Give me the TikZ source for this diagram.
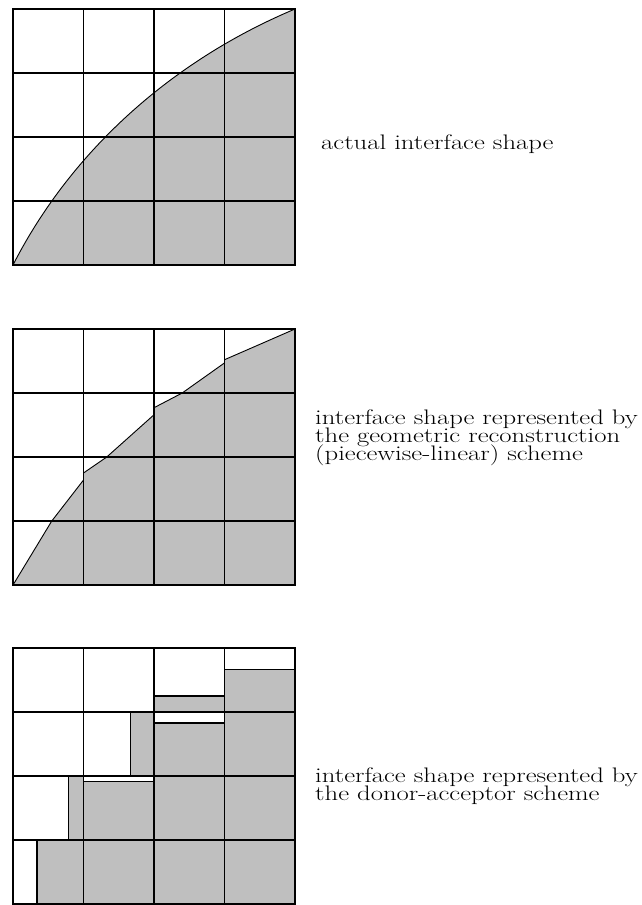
\documentclass[tikz,border=0pt]{standalone}
\usepackage{graphicx}
\definecolor{cellgray}{RGB}{191,191,191}
\tikzset{
  gridline/.style={line width=1.4pt, line cap=rect},
  iface/.style={line width=0.9pt},
  block/.style={fill=cellgray, draw=black, line width=1.3pt},
  lab/.style={anchor=base west, inner sep=0pt, font=\fontsize{21}{18.3}\selectfont},
}
\newcommand\labtext[1]{\scalebox{1.27}[1]{\vtop{\baselineskip=18.3pt\lineskiplimit=-100pt\lineskip=0pt #1}}}
\newcommand\cellgrid{\foreach \i in {0,...,4}{\draw[gridline] (\i,0) -- (\i,4); \draw[gridline] (0,\i) -- (4,\i);}}
\begin{document}
\begin{tikzpicture}[x=1pt,y=-1pt]
\useasboundingbox (0,0) rectangle (642,905);
\fill[white] (0,0) rectangle (642,905);

% ---------- grid 1: actual interface ----------
\begin{scope}[shift={(13,265)}, x=70.5pt, y=64pt]
  \fill[cellgray] plot[domain=0:4, samples=80, smooth] (\x,{-3.452+sqrt(67.45-(\x-7.452)^2)}) -- (4,0) -- cycle;
  \draw[iface] plot[domain=0:4, samples=80, smooth] (\x,{-3.452+sqrt(67.45-(\x-7.452)^2)});
  \cellgrid
\end{scope}
\node[lab] (t1) at (321,149) {\labtext{\hbox{actual interface shape}}};

% ---------- grid 2: piecewise-linear reconstruction ----------
\begin{scope}[shift={(13,585)}, x=70.5pt, y=64pt]
  \fill[cellgray] (0,0) -- (0.55,1) -- (1,1.64) -- (1,1.75) -- (1.33,2) -- (2,2.66) -- (2,2.77)
     -- (2.40,3) -- (3,3.47) -- (3,3.52) -- (4,4) -- (4,0) -- cycle;
  \draw[iface] (0,0) -- (0.55,1) -- (1,1.64);
  \draw[iface] (1,1.75) -- (1.33,2) -- (2,2.66);
  \draw[iface] (2,2.77) -- (2.40,3) -- (3,3.47);
  \draw[iface] (3,3.52) -- (4,4);
  \cellgrid
\end{scope}
\node[lab] (t2) at (315,424) {\labtext{\hbox{interface shape represented by}\hbox{the geometric reconstruction}\hbox{(piecewise-linear) scheme}}};

% ---------- grid 3: donor-acceptor ----------
\begin{scope}[shift={(13,904)}, x=70.5pt, y=64pt]
  % row 0
  \filldraw[block] (0.34,0) rectangle (1,1);
  \filldraw[block] (1,0) rectangle (4,1);
  % row 1
  \filldraw[block] (0.79,1) rectangle (1,2);
  \filldraw[block] (1,1) rectangle (2,1.91);
  \filldraw[block] (2,1) rectangle (4,2);
  % row 2
  \filldraw[block] (1.67,2) rectangle (2,3);
  \filldraw[block] (2,2) rectangle (3,2.83);
  \filldraw[block] (3,2) rectangle (4,3);
  % row 3
  \filldraw[block] (2,3) rectangle (3,3.25);
  \filldraw[block] (3,3) rectangle (4,3.66);
  \cellgrid
\end{scope}
\node[lab] (t3) at (315,782) {\labtext{\hbox{interface shape represented by}\hbox{the donor-acceptor scheme}}};
\end{tikzpicture}
\end{document}
